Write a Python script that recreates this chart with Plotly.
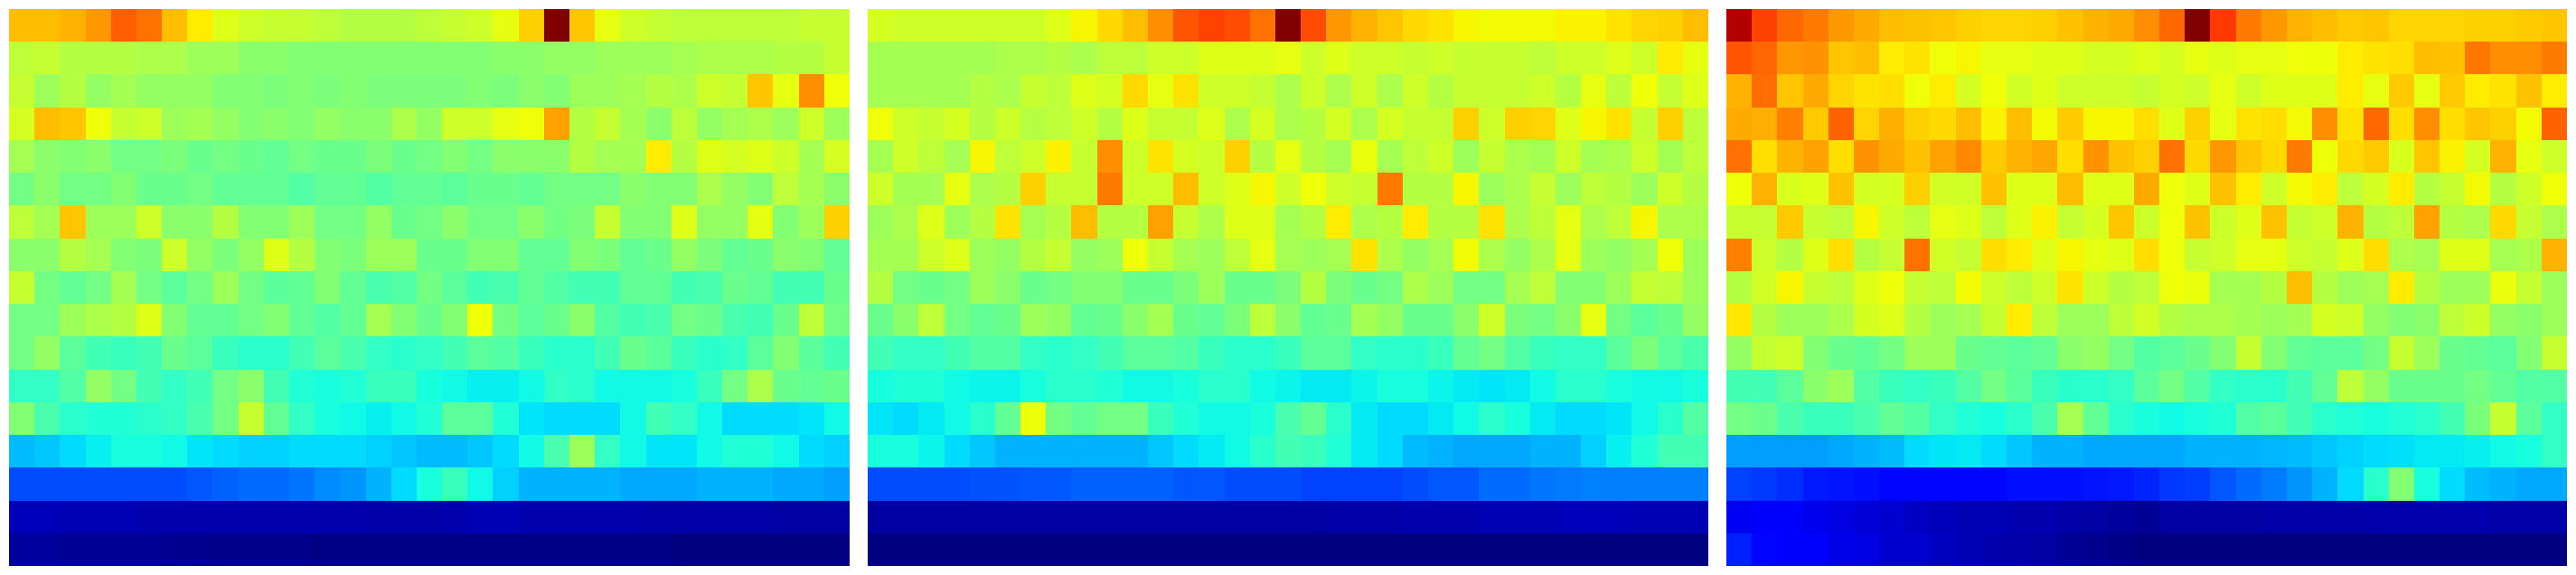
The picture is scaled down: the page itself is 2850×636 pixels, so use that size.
import plotly.graph_objects as go

left_panel = [
[71,71,72,75,81,79,71,66,62,60,59,59,58,57,57,57,58,59,60,63,69,100,70,63,60,59,58,58,58,58,58,59,59],
[58,59,57,57,57,56,56,54,54,52,52,51,51,51,51,51,51,51,51,52,52,53,53,54,54,54,55,56,56,56,57,57,59],
[59,54,57,53,55,53,53,53,51,51,50,51,50,51,50,50,50,50,51,50,52,51,54,54,55,57,56,60,59,70,63,76,64],
[61,71,70,64,59,60,54,55,53,51,52,51,53,52,52,56,53,60,60,63,64,74,57,59,55,52,58,53,55,56,54,60,54],
[55,52,51,52,49,49,50,48,49,48,47,49,48,48,50,48,49,51,49,52,52,52,57,55,55,66,57,62,61,62,60,55,61],
[49,52,49,49,51,48,48,49,47,47,47,45,47,47,45,47,47,46,48,48,47,49,49,49,52,51,51,56,53,51,58,55,52],
[58,55,70,54,54,60,52,52,57,51,51,54,49,49,53,48,49,52,49,49,52,49,50,59,51,51,62,53,53,63,51,54,69],
[52,52,57,55,51,50,60,53,50,53,62,57,51,50,54,54,48,48,51,51,47,47,51,50,47,48,53,50,47,48,52,51,47],
[59,49,47,49,55,49,46,49,54,49,46,47,51,47,44,45,49,46,43,44,47,45,43,43,47,47,43,44,48,47,43,43,48],
[49,49,54,56,57,62,51,47,47,49,51,47,45,47,55,51,48,51,64,49,46,48,52,45,43,44,49,48,44,43,48,58,49],
[49,53,46,43,42,43,48,46,42,40,40,43,46,44,41,40,41,43,46,45,42,40,40,43,48,46,42,40,41,46,51,46,43],
[41,41,45,53,49,43,41,43,49,52,43,39,38,39,42,42,38,37,36,36,37,41,40,37,37,37,38,42,49,56,48,47,48],
[51,44,40,39,39,40,41,44,49,59,47,41,38,37,36,37,39,46,46,39,35,34,34,34,37,43,41,37,34,34,34,35,37],
[31,32,34,36,38,38,37,35,34,33,33,34,34,34,33,32,31,31,32,34,37,44,54,41,37,35,35,37,39,39,37,34,33],
[20,20,20,20,20,20,20,21,22,23,23,24,26,27,30,34,38,42,37,33,30,30,30,30,29,29,29,30,30,30,29,29,28],
[5,5,4.5,4.5,4.5,4,4,4,4,4,4,4,4,4,3.5,3.5,3.5,4,4.5,4.5,4,4,4,4,4,3.5,3.5,3.5,3.5,3.5,3,3,3],
[2.5,2.5,2,2,2,2,1.5,1.5,1,1,1,1,0.5,0.5,0.5,0.5,0.5,0.5,0.5,0.5,0.5,0.5,0.5,0.5,0.5,0.5,0,0,0,0,0,0,0],
]

middle_panel = [
[61,60,60,60,60,60,60,62,65,68,71,76,82,84,83,79,100,83,75,72,70,68,67,65,64.5,64.5,64.5,65.5,65.5,67,68.5,69,71],
[55,55,55,55,55,56,56,57,56,58,58,60,60,62,62,62,63,60,62,60,60,59,60,59,59,59,58,60,60,62,60,66,63],
[55,55,55,55,57,56,59,58,62,61,68,63,67,60,60,59,56,60,56,60,56,60,57,59,59,59,60,57,63,58,64,59,62],
[64,60,59,61,57,60,57,58,60,57,62,59,59,62,56,61,56,57,61,56,61,59,59,69,60,69,68.5,62,65,67,59,69,58],
[55,60,58,55,65,58,60,65.5,59,76,60,67,61,60,69,57,63,57,55,63.5,55,58,60,54,59,56,55,60,55,56,60,55,58],
[60,55,55,63,56,57,69,59,59,78,60,60,71,60,62,65,60,64,60,59,78,57,57,65,54,56,59,54,58,57,54,60,57],
[54,56,62,54,57,67,55,57,71,57,57,74,59,56,62,62,55,57,66,56,57,66,57,57,67,56,58,63,56,58,65,56,56],
[55,55,60,62,54,53,57,59,53,54,64,59,55,54,58,63,55,54,55,67,56,53,55,64.5,56,53,56,63,54,53,55,64,54],
[57,49,48,49,54,52,48,49,51,51,48,48,50,54,48,48,50,57,50,48,49,56,54,49,49,55,58,51,51,54,59,58,54],
[48,52,58,49,47,48,54,53,47,48,52,55,48,47,50,58,52,47,48,55,53,48,48,52,60,50,49,52,63,49,46,48,53],
[43,41,41,43,45,45,41,40,41,43,46,46,45,42,40,40,42,46,46,41,40,40,42,47,49,45,42,41,41,46,50,46,44],
[38,39,39,37,36.5,36.5,38,40,40,39,37,37,38,40,40,37,36.5,35.5,35.5,36.5,38,38,36.5,35.5,35,35.5,37,40,40,38,37,37,38],
[35,34,35.5,37,40,47,64,49,47,49,49,42,39,37,37,38,44,47,40,35.5,34,34,35.5,37,40,38,35.5,34,34,35,37,40,45],
[38,38,36.5,34,32,30,30,30,30,30,30,32,34,35.5,37,40,43,42,39,35.5,34,31,30,29,29,29,30,30,33,36,39,43,43],
[20,20,20,20,20.5,20.5,21,21,22,22,22,22,21,21,20,20,20,19,19,19,19,20,21,21,23,23,24,24.5,25,25,25,25,25],
[3,3,3,3,3,3,3,3,3,3,3,3,3,3,3,3,3,3,3.5,3.5,3.5,4,4,4,4.5,4.5,4.5,5,5,5,4.5,4.5,4.5],
[0,0,0,0,0,0,0,0,0,0,0,0,0,0,0,0,0,0,0,0,0,0,0,0,0,0,0,0,0,0,0,0,0],
]

right_panel = [
[96,84,80,78,75,73,71,70.5,70,69,68.5,68.5,69,70.5,72,73,76,80,100,85,78,75,72,71,69.5,70,68.5,68.5,68.5,69,69,69.5,70],
[82,80,75,75.5,70,71,66,67,64,65,63,63,62,62,61,61,62,61,63,62,63,63,64,64,66,67,67.5,71,70.5,78.5,76,76,78],
[72,79.5,70,73,68.5,67,67.5,64,66,61,64,60.5,62,60,60,60,59,61,60,63,60,62,62,62,66,63,69.5,63,69.5,66,67,70.5,66],
[73,72.5,77.5,69.5,80.5,68.5,72.5,69,68,71,65.5,71,64.5,69.5,65,65,67.5,62,69,63,67,67.5,64.5,76,67,80,67.5,76,67.5,70,69,64.5,80.5],
[79,67.5,72,74,67.5,75.5,73,70.5,74,76.5,69.5,72,73.5,67.5,75.5,70.5,69,79,68,75,70,68,78,64,68,69.5,61.5,70,65.5,61,72,63,60],
[64,72,61.5,62,70.5,61,61,69,60.5,60.5,70.5,62,62,71,62,62,73,64,62,70.5,66,60,64.5,66,58,61,66,57,59,64.5,57,60,64],
[59,59,69.5,59,58,65,60,58,63,62,58,62,65.5,59,61,70,60,64,70.5,60,62,70.5,59,60,72,57,58,74,57,56,68,59,56],
[77.5,60,57,62,67.5,57,59,79,60.5,59,67.5,66,62,65,63,62,67.5,64,59,60,63,63,60,59,62,67.5,56,55,62,62,55,56,72],
[57,60.5,65,59,58,62,64,59,58,64.5,60,58,60,67,60,57,58,64,63.5,55,55,57,71,57,54,55,66,57,54,54,63.5,59,54],
[66.5,57,54,54,56,61,62,57,54,55,59,66,58,54,54,58,60.5,57,56,56,55,54,55,61,60,53,51,52,58,60,53,52,54],
[53,59,60,51,48,47,49,54,54,48,47,46,47,52,53,49,45,46,48,51,59,51,47,46,46,49,59,54,48,47,46,51,59],
[43,43,46,52,54,45,42,41,42,45,49,46,42,40,40,41,46,49,45,41,40,40,43,47,58,53,48,48,48,49,47,45,45],
[49,48,44,42,42,44,47,45,41,39,38,40,44,55,47,40,38,37,38,39,45,46,43,40,39,38,39,40,43,50,59,46,41],
[28,28,28,28,29,30,31,34,35,35.5,34,32,30,30,29,29,29,29,30,30,30,30.5,31,32,33,34,34.5,35.5,35.5,36,37,38,41],
[19,18,17,15,14.5,14,13,13,13,13,13,14,14,14,14.5,15,16,18,18.5,21,23,24.5,27,30,34,40,51,38,34,31,30,29,29],
[10,11,11.5,9.5,8.5,7.5,7,6,5,4.5,4.5,4,4,3.5,3,2.5,2,3,3,3,3,3.5,3.5,3.5,3.5,4,4,4,4,4,3.5,3.5,3.5],
[15.5,13,12,11,9,8.5,7,7,5.5,4.5,4,3.5,3,2,1,0.5,0,0,0,0,0,0,0,0,0,0,0,0,0,0,0,0,0],
]

panels = [left_panel, middle_panel, right_panel]
for panel in panels:
    assert len(panel) == 17
    assert all(len(r) == 33 for r in panel), [len(r) for r in panel]

jet_scale = [
    [0.0, "rgb(0,0,128)"], [0.11, "rgb(0,0,255)"], [0.125, "rgb(0,0,255)"],
    [0.34, "rgb(0,219,255)"], [0.35, "rgb(0,229,247)"], [0.375, "rgb(20,255,226)"],
    [0.64, "rgb(238,255,8)"], [0.65, "rgb(246,246,0)"], [0.66, "rgb(255,236,0)"],
    [0.89, "rgb(255,19,0)"], [0.91, "rgb(241,0,0)"], [1.0, "rgb(128,0,0)"],
]

W, H = 2850, 636
x_spans = [(10, 940), (960, 1890), (1910, 2840)]
y_span = (10, 626)

fig = go.Figure()
layout = dict(width=W, height=H, margin=dict(l=0, r=0, t=0, b=0),
              paper_bgcolor="white", plot_bgcolor="white", showlegend=False)
for i, (panel, span) in enumerate(zip(panels, x_spans), start=1):
    suffix = "" if i == 1 else str(i)
    fig.add_trace(go.Heatmap(z=panel, zmin=0, zmax=100, colorscale=jet_scale,
                             showscale=False, xaxis=f"x{suffix}", yaxis=f"y{suffix}"))
    layout[f"xaxis{suffix}"] = dict(domain=[span[0] / W, span[1] / W], visible=False,
                                    anchor=f"y{suffix}", constrain="domain")
    layout[f"yaxis{suffix}"] = dict(domain=[1 - y_span[1] / H, 1 - y_span[0] / H], visible=False,
                                    anchor=f"x{suffix}", autorange="reversed")
fig.update_layout(**layout)
fig.write_html("out.html", config={"displayModeBar": False},
               post_script="document.body.style.margin='0';document.documentElement.style.overflow='hidden';")
